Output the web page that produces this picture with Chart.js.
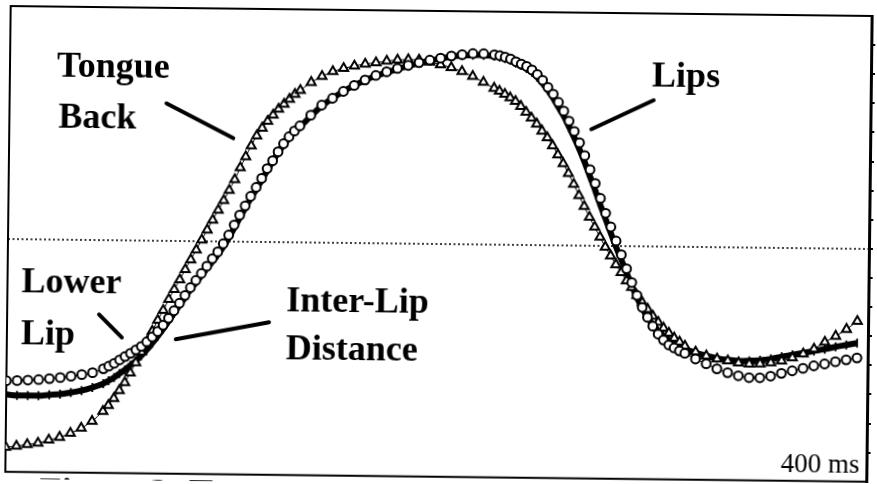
<!DOCTYPE html>
<html>
<head>
<meta charset="utf-8">
<script src="https://cdn.jsdelivr.net/npm/chart.js@4"></script>
<style>
  html, body { margin: 0; padding: 0; background: #fff; overflow: hidden; }
  #wrap { width: 877px; height: 484px; position: relative; }
  /* la figura escaneada está un poco inclinada */
  #grafico { transform: rotate(0.66deg); transform-origin: 438px 242px; }
</style>
</head>
<body>
<div id="wrap"><canvas id="grafico" width="877" height="484"></canvas></div>
<script>
// tiempo en ms (más muestras en las subidas y bajadas)
const tiempos = [
  0, 5, 10, 15, 20, 25, 30, 35, 40, 45,
  47.5, 50, 52.5, 55, 57.5, 60, 62.5, 65, 67.5, 70, 72.5, 75, 77.5, 80, 82.5, 85, 87.5, 90,
  92.5, 95, 97.5, 100, 102.5, 105, 107.5, 110, 112.5, 115, 117.5, 120, 122.5, 125, 127.5, 130, 132.5, 135,
  140, 145, 150, 155, 160, 165, 170, 175, 180, 185, 190, 195, 200, 205, 210, 215, 220, 225,
  227.5, 230, 232.5, 235, 237.5, 240, 242.5, 245, 247.5, 250, 252.5, 255, 257.5, 260, 262.5, 265, 267.5, 270,
  272.5, 275, 277.5, 280, 282.5, 285, 287.5, 290, 292.5, 295, 297.5, 300, 302.5, 305, 307.5, 310, 312.5, 315,
  320, 325, 330, 335, 340, 345, 350, 355, 360, 365, 370, 375, 380, 385, 390, 395
];

// Tongue Back (triángulos)
const tongueBack = [
  0.85, 0.89, 0.95, 1.00, 1.11, 1.21, 1.35, 1.53, 1.77, 2.12,
  2.32, 2.56, 2.84, 3.11, 3.45, 3.80, 4.17, 4.52, 4.89, 5.27, 5.61, 5.99, 6.33, 6.67, 7.02, 7.36, 7.70, 8.04,
  8.39, 8.73, 9.07, 9.41, 9.76, 10.13, 10.54, 10.92, 11.30, 11.64, 11.91, 12.15, 12.36, 12.57, 12.74, 12.91, 13.08, 13.22,
  13.50, 13.71, 13.88, 13.99, 14.08, 14.15, 14.20, 14.26, 14.30, 14.32, 14.31, 14.24, 14.16, 14.06, 13.93, 13.77, 13.57, 13.37,
  13.27, 13.17, 13.05, 12.93, 12.76, 12.56, 12.36, 12.16, 11.92, 11.69, 11.42, 11.11, 10.81, 10.47, 10.10, 9.72, 9.35, 8.98,
  8.64, 8.30, 7.96, 7.66, 7.36, 7.09, 6.81, 6.58, 6.31, 6.07, 5.84, 5.60, 5.40, 5.20, 5.03, 4.86, 4.73, 4.59,
  4.39, 4.26, 4.16, 4.10, 4.03, 4.00, 4.01, 4.05, 4.12, 4.23, 4.37, 4.54, 4.78, 4.99, 5.23, 5.51
];

// Lower Lip (círculos)
const lowerLip = [
  3.13, 3.14, 3.16, 3.18, 3.22, 3.26, 3.31, 3.37, 3.44, 3.58,
  3.67, 3.77, 3.89, 4.01, 4.12, 4.24, 4.36, 4.52, 4.69, 4.88, 5.10, 5.34, 5.60, 5.86, 6.13, 6.40, 6.65, 6.89,
  7.14, 7.40, 7.64, 7.92, 8.22, 8.57, 8.91, 9.23, 9.56, 9.87, 10.18, 10.52, 10.79, 11.10, 11.38, 11.62, 11.82, 12.00,
  12.37, 12.72, 12.96, 13.20, 13.41, 13.60, 13.76, 13.89, 14.01, 14.12, 14.22, 14.31, 14.38, 14.46, 14.51, 14.55, 14.55, 14.52,
  14.49, 14.44, 14.38, 14.29, 14.21, 14.13, 14.01, 13.86, 13.66, 13.42, 13.19, 12.91, 12.61, 12.27, 11.92, 11.53, 11.09, 10.61,
  10.14, 9.63, 9.12, 8.65, 8.17, 7.70, 7.22, 6.75, 6.31, 5.90, 5.56, 5.26, 4.99, 4.79, 4.62, 4.52, 4.42, 4.34,
  4.15, 3.99, 3.82, 3.69, 3.59, 3.53, 3.53, 3.59, 3.69, 3.78, 3.87, 3.96, 4.03, 4.11, 4.18, 4.25
];

// Inter-Lip Distance (línea gruesa)
const interLip = [
  2.66, 2.63, 2.63, 2.63, 2.66, 2.69, 2.75, 2.82, 2.93, 3.07,
  3.17, 3.28, 3.42, 3.55, 3.71, 3.86, 4.04, 4.24, 4.47, 4.71, 4.96, 5.24, 5.51, 5.79, 6.06, 6.34, 6.58, 6.82,
  7.06, 7.30, 7.54, 7.81, 8.12, 8.46, 8.81, 9.15, 9.49, 9.80, 10.11, 10.45, 10.76, 11.07, 11.34, 11.58, 11.79, 11.96,
  12.34, 12.69, 12.96, 13.20, 13.41, 13.59, 13.75, 13.87, 13.99, 14.10, 14.20, 14.29, 14.37, 14.44, 14.48, 14.50, 14.50, 14.47,
  14.44, 14.39, 14.33, 14.24, 14.16, 14.06, 13.93, 13.76, 13.56, 13.32, 13.05, 12.74, 12.44, 12.07, 11.70, 11.29, 10.85, 10.37,
  9.90, 9.39, 8.92, 8.44, 7.97, 7.53, 7.09, 6.65, 6.24, 5.87, 5.56, 5.29, 5.09, 4.92, 4.79, 4.67, 4.57, 4.49,
  4.36, 4.26, 4.18, 4.13, 4.10, 4.11, 4.13, 4.18, 4.26, 4.33, 4.40, 4.47, 4.54, 4.62, 4.69, 4.76
];

// ejes
const xMin = 0, xMax = 400;
const yMin = 0, yMax = 16;
const yTicks = [1, 2, 3, 4, 5, 6, 7, 8, 9, 10, 11, 12, 13, 14, 15];
const yReferencia = 8; // línea punteada

// etiquetas: [texto, x (ms), y]
const etiquetas = [
  ["Tongue", 21.8, 13.6],
  ["Back", 22.8, 11.83],
  ["Lips", 298.3, 13.49],
  ["Lower", 6.5, 6.17],
  ["Lip", 6.5, 4.4],
  ["Inter-Lip", 129.6, 5.62],
  ["Distance", 129.6, 3.99]
];
// flechas: [x1, y1, x2, y2]
const flechas = [
  [72.9, 12.72, 104.1, 11.55],
  [270.4, 12.0, 299.2, 13.02],
  [42.7, 5.44, 53.4, 4.66],
  [78.5, 4.62, 121.7, 5.24]
];

function puntos(valores) {
  return valores.map((v, i) => ({ x: tiempos[i], y: v }));
}

// Plugin para el marco, la línea punteada y los textos
const marco = {
  id: "marco",
  beforeDatasetsDraw(chart) {
    const ctx = chart.ctx;
    const a = chart.chartArea;
    const ys = chart.scales.y;
    ctx.save();
    ctx.strokeStyle = "#000";
    ctx.lineWidth = 2;
    ctx.beginPath();
    ctx.moveTo(a.right, a.top);
    ctx.lineTo(a.left, a.top);
    ctx.lineTo(a.left, a.bottom);
    ctx.lineTo(a.right, a.bottom);
    ctx.stroke();
    // línea punteada
    const yp = ys.getPixelForValue(yReferencia);
    ctx.lineWidth = 1.5;
    ctx.setLineDash([2, 2.5]);
    ctx.beginPath();
    ctx.moveTo(a.left, yp);
    ctx.lineTo(a.right, yp);
    ctx.stroke();
    ctx.restore();
  },
  afterDatasetsDraw(chart) {
    const ctx = chart.ctx;
    const xs = chart.scales.x, ys = chart.scales.y;
    ctx.save();
    ctx.fillStyle = "#000";
    ctx.font = "bold 36px 'Liberation Serif'";
    ctx.textBaseline = "alphabetic";
    etiquetas.forEach(e => {
      ctx.fillText(e[0], xs.getPixelForValue(e[1]), ys.getPixelForValue(e[2]));
    });
    ctx.strokeStyle = "#000";
    ctx.lineWidth = 4;
    ctx.lineCap = "round";
    flechas.forEach(f => {
      ctx.beginPath();
      ctx.moveTo(xs.getPixelForValue(f[0]), ys.getPixelForValue(f[1]));
      ctx.lineTo(xs.getPixelForValue(f[2]), ys.getPixelForValue(f[3]));
      ctx.stroke();
    });
    ctx.font = "27px 'Liberation Serif'";
    ctx.textAlign = "right";
    ctx.fillText("400 ms", xs.getPixelForValue(396.7), ys.getPixelForValue(0.3));
    // pie de figura, casi fuera del recorte
    ctx.textAlign = "left";
    ctx.font = "bold 36px 'Liberation Serif'";
    ctx.fillText("Figure 3: Tongue", xs.getPixelForValue(16), ys.getPixelForValue(-1.05));
    ctx.restore();
  }
};

const ctx = document.getElementById("grafico").getContext("2d");
const chart = new Chart(ctx, {
  type: "line",
  data: {
    datasets: [
      {
        label: "Inter-Lip Distance",
        data: puntos(interLip),
        borderColor: "#000",
        borderWidth: 6,
        pointStyle: "line",
        rotation: 90,
        pointRadius: 4.5,
        pointBorderWidth: 1.8,
        pointBorderColor: "#000",
        tension: 0.3,
        order: 3
      },
      {
        label: "Tongue Back",
        data: puntos(tongueBack),
        borderColor: "#000",
        borderWidth: 1,
        pointStyle: "triangle",
        pointRadius: 5.2,
        pointBackgroundColor: "#fff",
        pointBorderColor: "#000",
        pointBorderWidth: 2,
        tension: 0.3,
        order: 2
      },
      {
        label: "Lower Lip",
        data: puntos(lowerLip),
        borderColor: "#000",
        borderWidth: 1,
        pointStyle: "circle",
        pointRadius: 4.4,
        pointBackgroundColor: "#fff",
        pointBorderColor: "#000",
        pointBorderWidth: 2,
        tension: 0.3,
        order: 1
      }
    ]
  },
  options: {
    responsive: false,
    animation: false,
    layout: { padding: { left: 8, top: 11, right: 4, bottom: 2 } },
    plugins: { legend: { display: false }, tooltip: { enabled: false } },
    scales: {
      x: { type: "linear", min: xMin, max: xMax, display: false },
      y: {
        type: "linear",
        position: "right",
        min: yMin,
        max: yMax,
        afterBuildTicks: eje => { eje.ticks = yTicks.map(v => ({ value: v })); },
        ticks: { display: false },
        grid: { drawOnChartArea: false, drawTicks: true, tickLength: 4, color: "#000", lineWidth: 2 },
        border: { display: true, color: "#000", width: 3 }
      }
    }
  },
  plugins: [marco]
});
</script>
</body>
</html>
